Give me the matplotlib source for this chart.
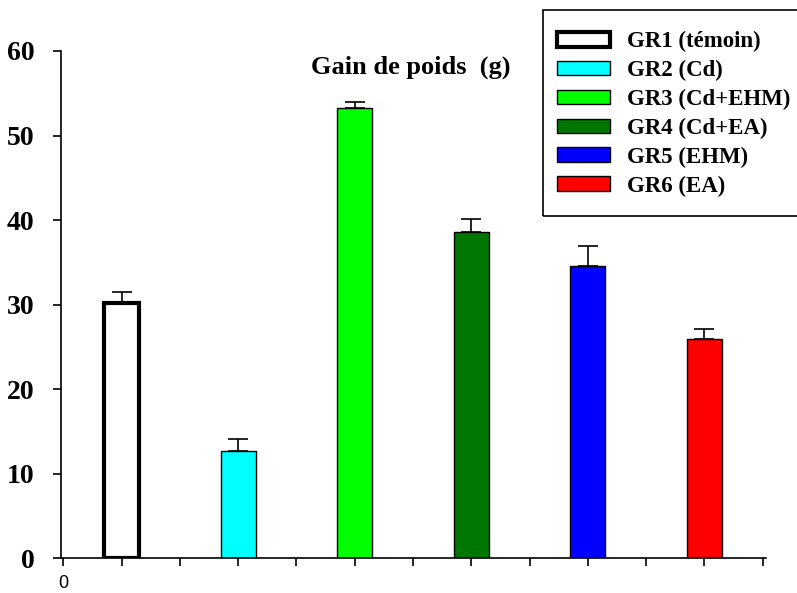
import numpy as np
import matplotlib.pyplot as plt
from matplotlib.patches import Rectangle

# data
groups = ["GR1 (témoin)", "GR2 (Cd)", "GR3 (Cd+EHM)", "GR4 (Cd+EA)", "GR5 (EHM)", "GR6 (EA)"]
gain = [30.2, 12.7, 53.3, 38.6, 34.6, 25.9]
sem = [1.3, 1.4, 0.7, 1.5, 2.3, 1.2]
colors = ["white", "#00ffff", "#00ff00", "#007700", "#0000ff", "#ff0000"]
edge_widths = [3, 1, 1, 1, 1, 1]
positions = [1, 3, 5, 7, 9, 11]

W, H = 797, 593
fig = plt.figure(figsize=(W / 100, H / 100), dpi=100)
ax = fig.add_axes([0.0765, 0.059, 0.884, 0.855])

serif = ["Liberation Serif", "DejaVu Serif"]

for x, h, e, c, lw, lab in zip(positions, gain, sem, colors, edge_widths, groups):
    ax.bar(x, h, width=0.6, color=c, edgecolor="black", linewidth=lw, label=lab, zorder=2)
    ax.errorbar(x, h, yerr=[[0], [e]], fmt="none", ecolor="black",
                elinewidth=1.2, capsize=7, capthick=1.2, zorder=1)

ax.set_xlim(-0.04, 12.05)
ax.set_ylim(0, 60)
ax.spines["top"].set_visible(False)
ax.spines["right"].set_visible(False)
ax.spines["left"].set_linewidth(1.2)
ax.spines["bottom"].set_linewidth(1.2)

ax.set_yticks(np.arange(0, 61, 10))
ax.set_yticklabels([str(v) for v in range(0, 61, 10)], fontfamily=serif,
                   fontweight="bold", fontsize=20)
ax.tick_params(axis="y", direction="out", length=6, width=1.2, pad=13)

ax.set_xticks(np.arange(0, 13, 1))
ax.set_xticklabels(["0"] + [""] * 12, fontfamily="Liberation Sans", fontsize=13)
ax.tick_params(axis="x", direction="out", length=6, width=1.2, pad=6)

ax.text(5.97, 58.1, "Gain de poids  (g)", fontfamily=serif, fontweight="bold",
        fontsize=19, ha="center", va="center")

# legend box drawn by hand, runs past the right edge like the original
fig.add_artist(Rectangle((543 / W, 1 - 216 / H), 270 / W, 206 / H,
                         transform=fig.transFigure, fill=False,
                         edgecolor="black", linewidth=1.2, zorder=5))
leg = ax.legend(loc="upper left", bbox_to_anchor=(557 / W, 1 - 31 / H),
                bbox_transform=fig.transFigure,
                prop={"family": serif, "weight": "bold", "size": 16.5},
                frameon=False, handlelength=2.3, handleheight=0.62,
                labelspacing=0.34, borderpad=0, handletextpad=0.74,
                borderaxespad=0)

fig.savefig("out.png", dpi=100)
